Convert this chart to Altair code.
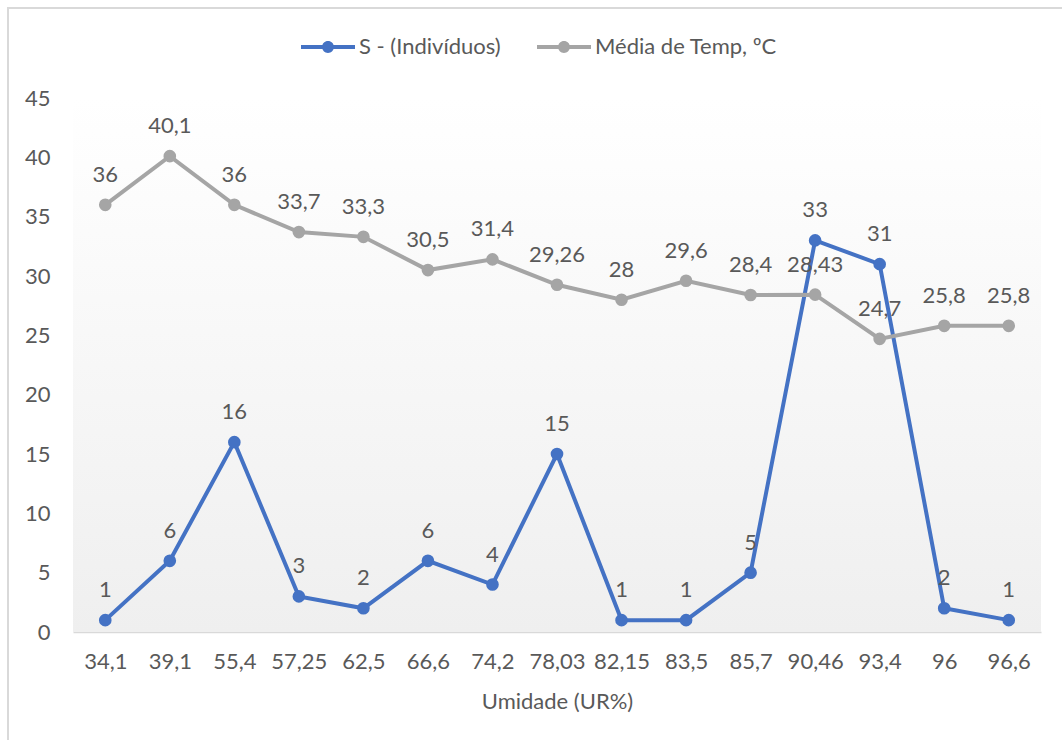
import altair as alt
import pandas as pd

umidade = ["34,1", "39,1", "55,4", "57,25", "62,5", "66,6", "74,2", "78,03",
           "82,15", "83,5", "85,7", "90,46", "93,4", "96", "96,6"]
individuos = [1, 6, 16, 3, 2, 6, 4, 15, 1, 1, 5, 33, 31, 2, 1]
temp = [36, 40.1, 36, 33.7, 33.3, 30.5, 31.4, 29.26, 28, 29.6, 28.4, 28.43, 24.7, 25.8, 25.8]

s_name = "S - (Indivíduos)"
t_name = "Média de Temp, ºC"

def fmt(v):
    s = ("%g" % v).replace(".", ",")
    return s

rows = []
for i, u in enumerate(umidade):
    rows.append({"ur": u, "serie": s_name, "valor": individuos[i], "rotulo": fmt(individuos[i]), "ordem": 1})
    rows.append({"ur": u, "serie": t_name, "valor": temp[i], "rotulo": fmt(temp[i]), "ordem": 0})
df = pd.DataFrame(rows)

FONT = "Lato"
FS = 22
TXT = "#595959"
W, H = 968, 534
PL, PT = 73, 98

legend_path = ("M-1,-0.075L1,-0.075L1,0.075L-1,0.075Z "
               "M0.22,0A0.22,0.22 0 1,1 -0.22,0A0.22,0.22 0 1,1 0.22,0Z")

color = alt.Color("serie:N",
                  scale=alt.Scale(domain=[s_name, t_name], range=["#4472C4", "#A5A5A5"]),
                  legend=alt.Legend(title=None, orient="none", legendX=228, legendY=-78,
                                    direction="horizontal", symbolType=legend_path,
                                    symbolSize=2916, symbolStrokeWidth=0, labelLimit=400,
                                    labelFont=FONT, labelFontSize=FS, labelColor=TXT,
                                    labelOffset=4, columnPadding=36))

x = alt.X("ur:N", sort=umidade, title="Umidade (UR%)",
          scale=alt.Scale(type="point", padding=0.5),
          axis=alt.Axis(labelAngle=0, labelFont=FONT, labelFontSize=FS, labelColor=TXT,
                        labelPadding=19, ticks=False, domainColor="#d9d9d9", domainWidth=1.5,
                        grid=True, gridColor="#d9d9d9", gridWidth=1.5,
                        titleFont=FONT, titleFontSize=FS, titleColor=TXT,
                        titleFontWeight="normal", titlePadding=19))
y = alt.Y("valor:Q", title=None,
          scale=alt.Scale(domain=[0, 45], nice=False),
          axis=alt.Axis(values=list(range(0, 50, 5)), grid=False, domain=False, ticks=False,
                        labelFont=FONT, labelFontSize=FS, labelColor=TXT, labelPadding=23))

one = pd.DataFrame({"k": [0]})

bg = alt.Chart(one).mark_rect(
    fill=alt.LinearGradient(gradient="linear", x1=0, x2=0, y1=0, y2=1,
                            stops=[alt.GradientStop(color="#ffffff", offset=0),
                                   alt.GradientStop(color="#efefef", offset=1)])).encode(
    x=alt.value(0), x2=alt.value(W), y=alt.value(0), y2=alt.value(H))

border = alt.Chart(one).mark_rect(
    fill=None, stroke="#d9d9d9", strokeWidth=2, clip=False).encode(
    x=alt.value(8 - PL), x2=alt.value(1070 - PL), y=alt.value(8 - PT), y2=alt.value(760 - PT))

base = alt.Chart(df)
lines = base.mark_line(strokeWidth=4, point=alt.OverlayMarkDef(size=160, filled=True, opacity=1)).encode(
    x=x, y=y, color=color, order=alt.Order("ordem:Q"), detail="serie:N")
labels = base.mark_text(dy=-30, font=FONT, fontSize=FS, color=TXT).encode(
    x=alt.X("ur:N", sort=umidade), y="valor:Q", text="rotulo:N")

chart = alt.layer(bg, border, lines, labels).properties(
    width=W, height=H,
    autosize=alt.AutoSizeParams(type="none"),
    padding={"left": PL, "top": PT, "right": 1062 - PL - W, "bottom": 740 - PT - H},
    background="white",
).configure_view(stroke=None)

chart.save("out.html", embed_options={"renderer": "svg", "actions": False})
